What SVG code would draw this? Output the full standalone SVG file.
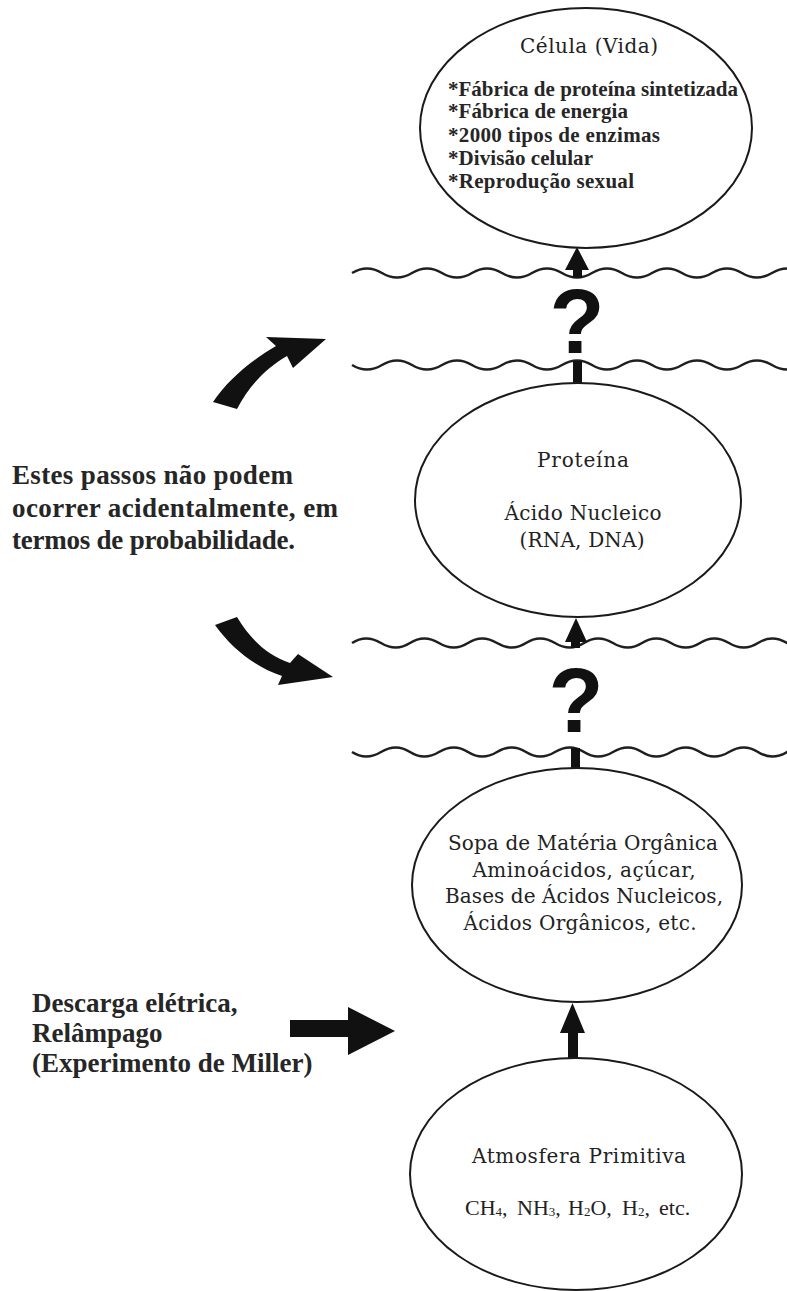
<svg xmlns="http://www.w3.org/2000/svg" width="787" height="1291" viewBox="0 0 787 1291">
  <style>
    .node { fill: #ffffff; stroke: #1a1a1a; stroke-width: 2; }
    .lbl { font-family: "DejaVu Serif", "Liberation Serif", serif; font-size: 20px; fill: #222222; text-anchor: middle; }
    .item { font-family: "Liberation Serif", "Times New Roman", serif; font-size: 21px; font-weight: bold; fill: #262626; }
    .note { font-family: "Liberation Serif", "Times New Roman", serif; font-size: 27px; font-weight: bold; fill: #262626; }
    .chem { font-family: "Liberation Serif", "Times New Roman", serif; font-size: 22px; fill: #222222; }
    .sub { font-size: 13px; }
    .wave { fill: none; stroke: #1f1f1f; stroke-width: 2.5; }
    .solid { fill: #111111; stroke: none; }
    .qmark { font-family: "Liberation Sans", Arial, sans-serif; font-size: 90px; font-weight: bold; fill: #111111; text-anchor: middle; }
  </style>

  <!-- barriers between stages -->
  <g id="barriers">
    <path class="wave" d="M 352 273 Q 367 264 382 273 T 412 273 T 442 273 T 472 273 T 502 273 T 532 273 T 562 273 T 592 273 T 622 273 T 652 273 T 682 273 T 712 273 T 742 273 T 772 273 T 802 273"/>
    <path class="wave" d="M 352 365 Q 367 374 382 365 T 412 365 T 442 365 T 472 365 T 502 365 T 532 365 T 562 365 T 592 365 T 622 365 T 652 365 T 682 365 T 712 365 T 742 365 T 772 365 T 802 365"/>
    <path class="wave" d="M 352 643 Q 366 634 381 643 T 410 643 T 439 643 T 468 643 T 497 643 T 526 643 T 555 643 T 584 643 T 613 643 T 642 643 T 671 643 T 700 643 T 729 643 T 758 643 T 787 643 T 816 643"/>
    <path class="wave" d="M 352 752 Q 366 761 381 752 T 410 752 T 439 752 T 468 752 T 497 752 T 526 752 T 555 752 T 584 752 T 613 752 T 642 752 T 671 752 T 700 752 T 729 752 T 758 752 T 787 752 T 816 752"/>
    <text class="qmark" x="577" y="353">?</text>
    <text class="qmark" x="576" y="732">?</text>
  </g>

  <!-- connectors -->
  <g id="connectors">
    <!-- Proteína -> Célula -->
    <path class="solid" d="M 577 247 L 589 270 L 582 270 L 582 278 L 573 278 L 573 270 L 565 270 Z"/>
    <rect class="solid" x="573" y="361" width="9" height="23"/>
    <!-- Sopa -> Proteína -->
    <path class="solid" d="M 576 618 L 587 642 L 580 642 L 580 648 L 571 648 L 571 642 L 565 642 Z"/>
    <rect class="solid" x="571" y="748" width="9" height="21"/>
    <!-- Atmosfera -> Sopa -->
    <path class="solid" d="M 572.5 1003 L 585 1033 L 578 1033 L 578 1059 L 568 1059 L 568 1033 L 560 1033 Z"/>
    <!-- curved pointers beside the note -->
    <path class="solid" d="M 213 402 C 228 380 249 362 276 346 L 266 337 L 326 339 L 293 368 L 287 356 C 266 368 249 386 237 409 Z"/>
    <path class="solid" d="M 215 625 L 237 617 C 251 640 267 655 290 663 L 298 654 L 333 677 L 278 685 L 282 676 C 256 667 233 650 215 625 Z"/>
    <!-- discharge arrow -->
    <path class="solid" d="M 290 1020 L 348 1020 L 348 1007 L 395 1031 L 348 1055 L 348 1037 L 290 1037 Z"/>
  </g>

  <g id="celula">
    <ellipse class="node" cx="586" cy="128" rx="166" ry="120"/>
    <text class="lbl" x="589" y="53" textLength="138">Célula (Vida)</text>
    <text class="item" x="448" y="96" textLength="290">*Fábrica de proteína sintetizada</text>
    <text class="item" x="448" y="118" textLength="180">*Fábrica de energia</text>
    <text class="item" x="448" y="142" textLength="212">*2000 tipos de enzimas</text>
    <text class="item" x="448" y="165" textLength="145">*Divisão celular</text>
    <text class="item" x="448" y="188" textLength="186">*Reprodução sexual</text>
  </g>

  <g id="proteina">
    <ellipse class="node" cx="578" cy="500" rx="163" ry="117"/>
    <text class="lbl" x="583" y="467" textLength="92">Proteína</text>
    <text class="lbl" x="583" y="520" textLength="157">Ácido Nucleico</text>
    <text class="lbl" x="582" y="547" textLength="125">(RNA, DNA)</text>
  </g>

  <g id="sopa">
    <ellipse class="node" cx="577" cy="885" rx="165" ry="117"/>
    <text class="lbl" x="583" y="850" textLength="270">Sopa de Matéria Orgânica</text>
    <text class="lbl" x="584" y="877" textLength="223">Aminoácidos, açúcar,</text>
    <text class="lbl" x="584" y="903" textLength="278">Bases de Ácidos Nucleicos,</text>
    <text class="lbl" x="580" y="930" textLength="233">Ácidos Orgânicos, etc.</text>
  </g>

  <g id="atmosfera">
    <ellipse class="node" cx="576" cy="1174" rx="166" ry="116"/>
    <text class="lbl" x="579" y="1163" textLength="214">Atmosfera Primitiva</text>
    <text class="chem" y="1215"><tspan x="465">CH</tspan><tspan class="sub" dy="1">4</tspan><tspan dy="-1">,</tspan><tspan x="517">NH</tspan><tspan class="sub" dy="1">3</tspan><tspan dy="-1">,</tspan><tspan x="568">H</tspan><tspan class="sub" dy="1">2</tspan><tspan dy="-1">O,</tspan><tspan x="622">H</tspan><tspan class="sub" dy="1">2</tspan><tspan dy="-1">,</tspan><tspan x="659">etc.</tspan></text>
  </g>

  <g id="nota-probabilidade">
    <text class="note" x="12" y="484" textLength="281">Estes passos não podem</text>
    <text class="note" x="12" y="517" textLength="326">ocorrer acidentalmente, em</text>
    <text class="note" x="12" y="549" textLength="283">termos de probabilidade.</text>
  </g>

  <g id="nota-miller">
    <text class="note" x="32" y="1012">Descarga elétrica,</text>
    <text class="note" x="32" y="1042">Relâmpago</text>
    <text class="note" x="32" y="1072">(Experimento de Miller)</text>
  </g>
</svg>
